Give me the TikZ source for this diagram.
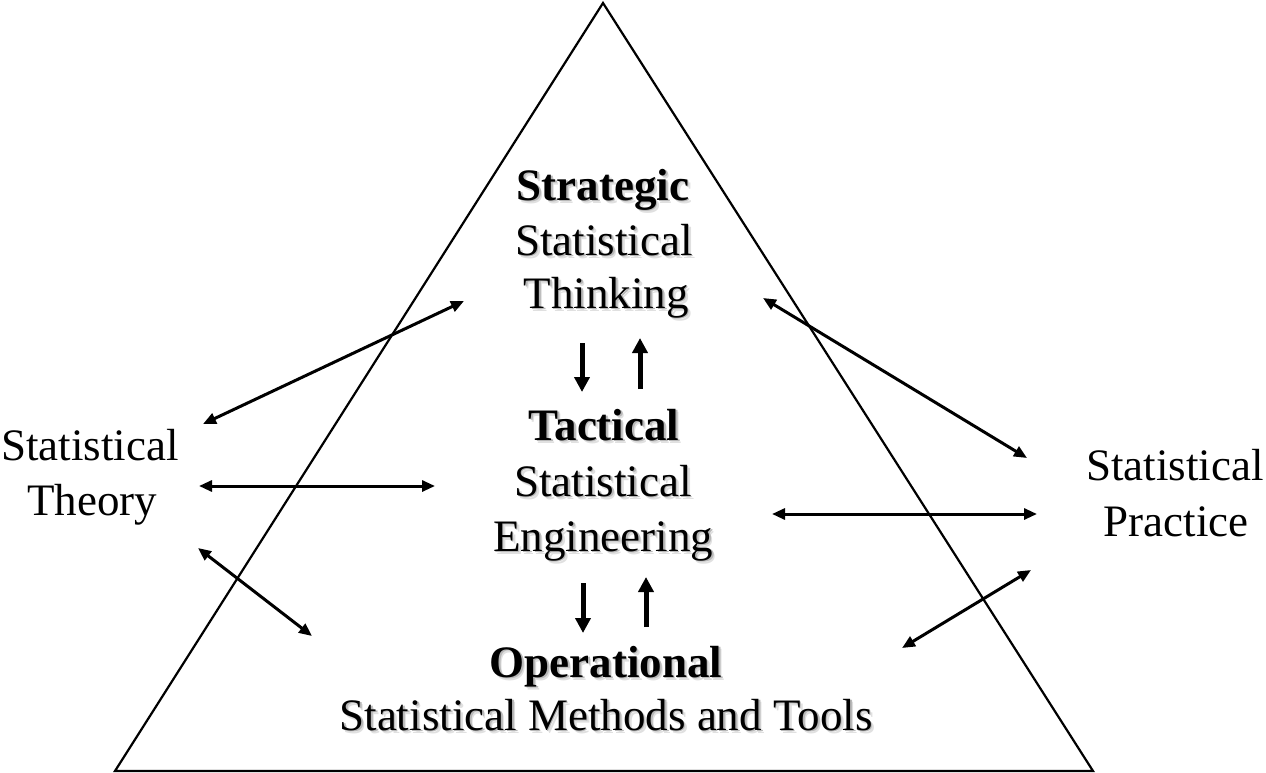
\documentclass[tikz,border=0pt]{standalone}
\usepackage{fontspec}
\setmainfont{Liberation Serif}
\usetikzlibrary{arrows.meta}
\newcommand\shd[1]{\leavevmode\rlap{\kern3pt\raisebox{-3pt}{\textcolor{black!12}{#1}}}\rlap{\kern1.6pt\raisebox{-1.6pt}{\textcolor{black!28}{#1}}}#1}
\tikzset{
  lbl/.style={anchor=base, inner sep=0pt, font=\fontsize{45}{54}\selectfont},
  blbl/.style={lbl, font=\fontsize{45}{54}\selectfont\bfseries},
  link/.style={line width=3pt, {Triangle[length=13pt,width=11pt]}-{Triangle[length=13pt,width=11pt]}},
  flow/.style={line width=5pt, -{Triangle[length=15pt,width=15pt]}},
  tri/.style={line width=2.2pt, line join=miter}
}
\begin{document}
\begin{tikzpicture}[x=1pt,y=-1pt]
\useasboundingbox (0,0) rectangle (1266,773);
% pyramid
\coordinate (apex) at (603,3);
\coordinate (br) at (1093,771);
\coordinate (bl) at (115,771);
\draw[tri] (apex) -- (br) -- (bl) -- cycle;
% texts inside
\node[blbl] (strat) at (603,200) {\shd{Strategic}};
\node[lbl] (strat2) at (604,255) {\shd{Statistical}};
\node[lbl] (strat3) at (606,308) {\shd{Thinking}};
\node[blbl] (tact) at (604,440) {\shd{Tactical}};
\node[lbl] (tact2) at (603,496) {\shd{Statistical}};
\node[lbl] (tact3) at (603,551) {\shd{Engineering}};
\node[blbl] (oper) at (606,677) {\shd{Operational}};
\node[lbl] (oper2) at (606,730) {\shd{Statistical Methods and Tools}};
% outside labels
\node[lbl] (th1) at (90,460) {Statistical};
\node[lbl] (th2) at (92,515) {Theory};
\node[lbl] (pr1) at (1175,480) {Statistical};
\node[lbl] (pr2) at (1176,536) {Practice};
% arrow end points
\coordinate (lA1) at (203,424); \coordinate (lA2) at (464,301);
\coordinate (lB1) at (199,486); \coordinate (lB2) at (435,486);
\coordinate (lC1) at (198,548); \coordinate (lC2) at (312,636);
\coordinate (rA1) at (763,298); \coordinate (rA2) at (1027,458);
\coordinate (rB1) at (772,514); \coordinate (rB2) at (1037,514);
\coordinate (rC1) at (902,648); \coordinate (rC2) at (1031,570);
\draw[link] (lA1) -- (lA2);
\draw[link] (lB1) -- (lB2);
\draw[link] (lC1) -- (lC2);
\draw[link] (rA1) -- (rA2);
\draw[link] (rB1) -- (rB2);
\draw[link] (rC1) -- (rC2);
% vertical flows
\coordinate (d1s) at (582,343); \coordinate (d1e) at (582,392);
\coordinate (u1s) at (640,389); \coordinate (u1e) at (640,338);
\coordinate (d2s) at (583,583); \coordinate (d2e) at (583,633);
\coordinate (u2s) at (646,627); \coordinate (u2e) at (646,577);
\draw[flow] (d1s) -- (d1e);
\draw[flow] (u1s) -- (u1e);
\draw[flow] (d2s) -- (d2e);
\draw[flow] (u2s) -- (u2e);
\end{tikzpicture}
\end{document}
